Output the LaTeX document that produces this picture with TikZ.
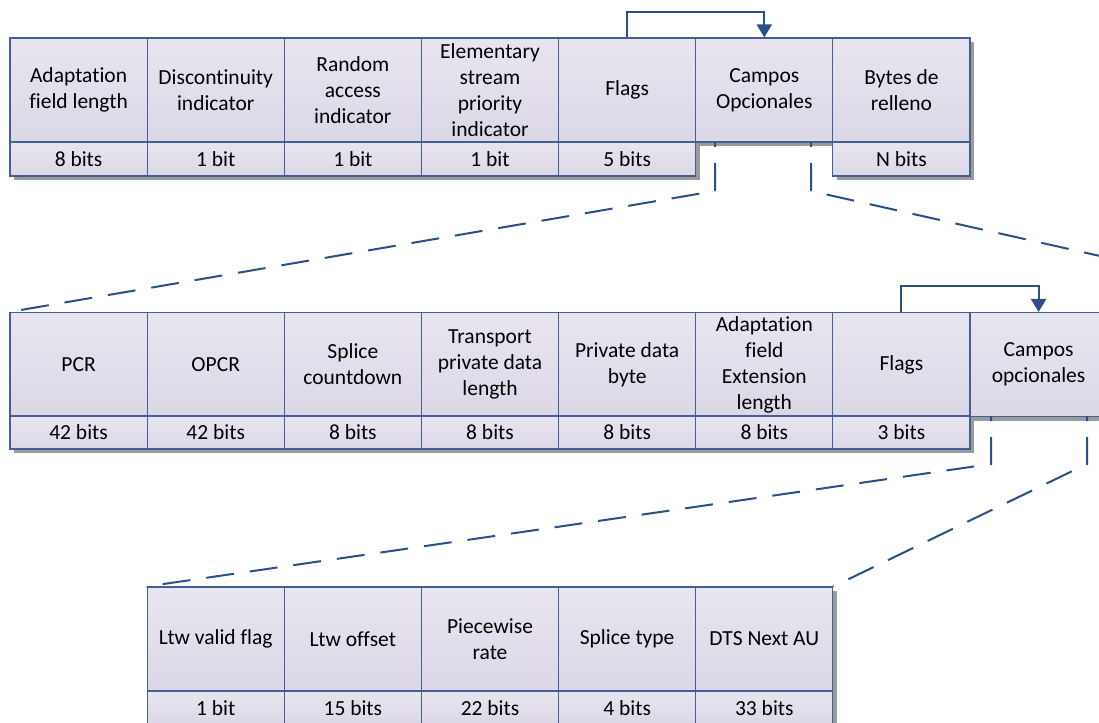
\documentclass[tikz,border=0pt]{standalone}
\usepackage{fontspec}
\setmainfont{Carlito}[Ligatures={NoCommon,NoContextual,NoRequired}]
\usetikzlibrary{shadows,arrows.meta}
\definecolor{celltop}{RGB}{232,229,240}
\definecolor{cellbot}{RGB}{220,215,230}
\definecolor{cellline}{RGB}{66,96,146}
\definecolor{linkblue}{RGB}{42,80,136}
\definecolor{shadowgray}{RGB}{155,155,155}
\begin{document}
\begin{tikzpicture}[x=1pt,y=-1pt,
  cell/.style={draw=cellline, line width=1.1pt, top color=celltop, bottom color=cellbot,
    minimum width=137.14pt, inner sep=0pt, align=center,
    font=\fontsize{21.5}{26}\selectfont,
    drop shadow={shadow xshift=4pt, shadow yshift=-4pt, fill=shadowgray, opacity=1}},
  namecell/.style={cell, minimum height=104pt},
  bitcell/.style={cell, minimum height=34pt},
  bitcellm/.style={cell, minimum height=33pt},
  flagarrow/.style={draw=linkblue, line width=2pt, -{Triangle[width=15pt,length=13pt]}},
  zoomline/.style={draw=linkblue, line width=2pt, dash pattern=on 28pt off 16pt, dash phase=23pt}
]
\useasboundingbox (0,0) rectangle (1099,722);

% ---- adaptation field ----
\node[namecell] (a1) at (78.57,90) {Adaptation\\field length};
\node[bitcell]  (a1b) at (78.57,159) {8 bits};
\node[namecell] (a2) at (215.71,90) {Discontinuity\\indicator};
\node[bitcell]  (a2b) at (215.71,159) {1 bit};
\node[namecell] (a3) at (352.86,90) {Random\\access\\indicator};
\node[bitcell]  (a3b) at (352.86,159) {1 bit};
\node[namecell] (a4) at (490,90) {Elementary\\stream\\priority\\indicator};
\node[bitcell]  (a4b) at (490,159) {1 bit};
\node[namecell] (a5) at (627.14,90) {Flags};
\node[bitcell]  (a5b) at (627.14,159) {5 bits};
\node[namecell] (a6) at (764.29,90) {Campos\\Opcionales};
\node[namecell] (a7) at (901.43,90) {Bytes de\\relleno};
\node[bitcell]  (a7b) at (901.43,159) {N bits};

% ---- optional fields ----
\node[namecell] (b1) at (78.57,364.5) {PCR};
\node[bitcellm] (b1b) at (78.57,432.5) {42 bits};
\node[namecell] (b2) at (215.71,364.5) {OPCR};
\node[bitcellm] (b2b) at (215.71,432.5) {42 bits};
\node[namecell] (b3) at (352.86,364.5) {Splice\\countdown};
\node[bitcellm] (b3b) at (352.86,432.5) {8 bits};
\node[namecell] (b4) at (490,364.5) {Transport\\private data\\length};
\node[bitcellm] (b4b) at (490,432.5) {8 bits};
\node[namecell] (b5) at (627.14,364.5) {Private data\\byte};
\node[bitcellm] (b5b) at (627.14,432.5) {8 bits};
\node[namecell] (b6) at (764.29,364.5) {Adaptation\\field\\Extension\\length};
\node[bitcellm] (b6b) at (764.29,432.5) {8 bits};
\node[namecell] (b7) at (901.43,364.5) {Flags};
\node[bitcellm] (b7b) at (901.43,432.5) {3 bits};
\node[namecell] (b8) at (1038.57,364.5) {Campos\\opcionales};

% ---- extension fields ----
\node[namecell] (c1) at (215.71,639) {Ltw valid flag};
\node[bitcell]  (c1b) at (215.71,708) {1 bit};
\node[namecell] (c2) at (352.86,639) {Ltw offset};
\node[bitcell]  (c2b) at (352.86,708) {15 bits};
\node[namecell] (c3) at (490,639) {Piecewise\\rate};
\node[bitcell]  (c3b) at (490,708) {22 bits};
\node[namecell] (c4) at (627.14,639) {Splice type};
\node[bitcell]  (c4b) at (627.14,708) {4 bits};
\node[namecell] (c5) at (764.29,639) {DTS Next AU};
\node[bitcell]  (c5b) at (764.29,708) {33 bits};

% ---- flags point to the optional fields ----
\draw[flagarrow] (a5.north) -- ++(0,-25) -| (a6.north);
\draw[flagarrow] (b7.north) -- ++(0,-26) -| (b8.north);

% ---- expansion lines ----
\coordinate (e1) at (715,142);
\coordinate (e2) at (811,142);
\coordinate (e3) at (1100,256);
\draw[zoomline] (e1) -- ++(0,49) -- (b1.north west);
\draw[zoomline] (e2) -- ++(0,49) -- (e3);

\coordinate (f1) at (991,416);
\coordinate (f2) at (1087,416);
\draw[zoomline] (f1) -- ++(0,48) -- (c1.north west);
\draw[zoomline] (f2) -- ++(0,48) -- (c5.north east);
\end{tikzpicture}
\end{document}
